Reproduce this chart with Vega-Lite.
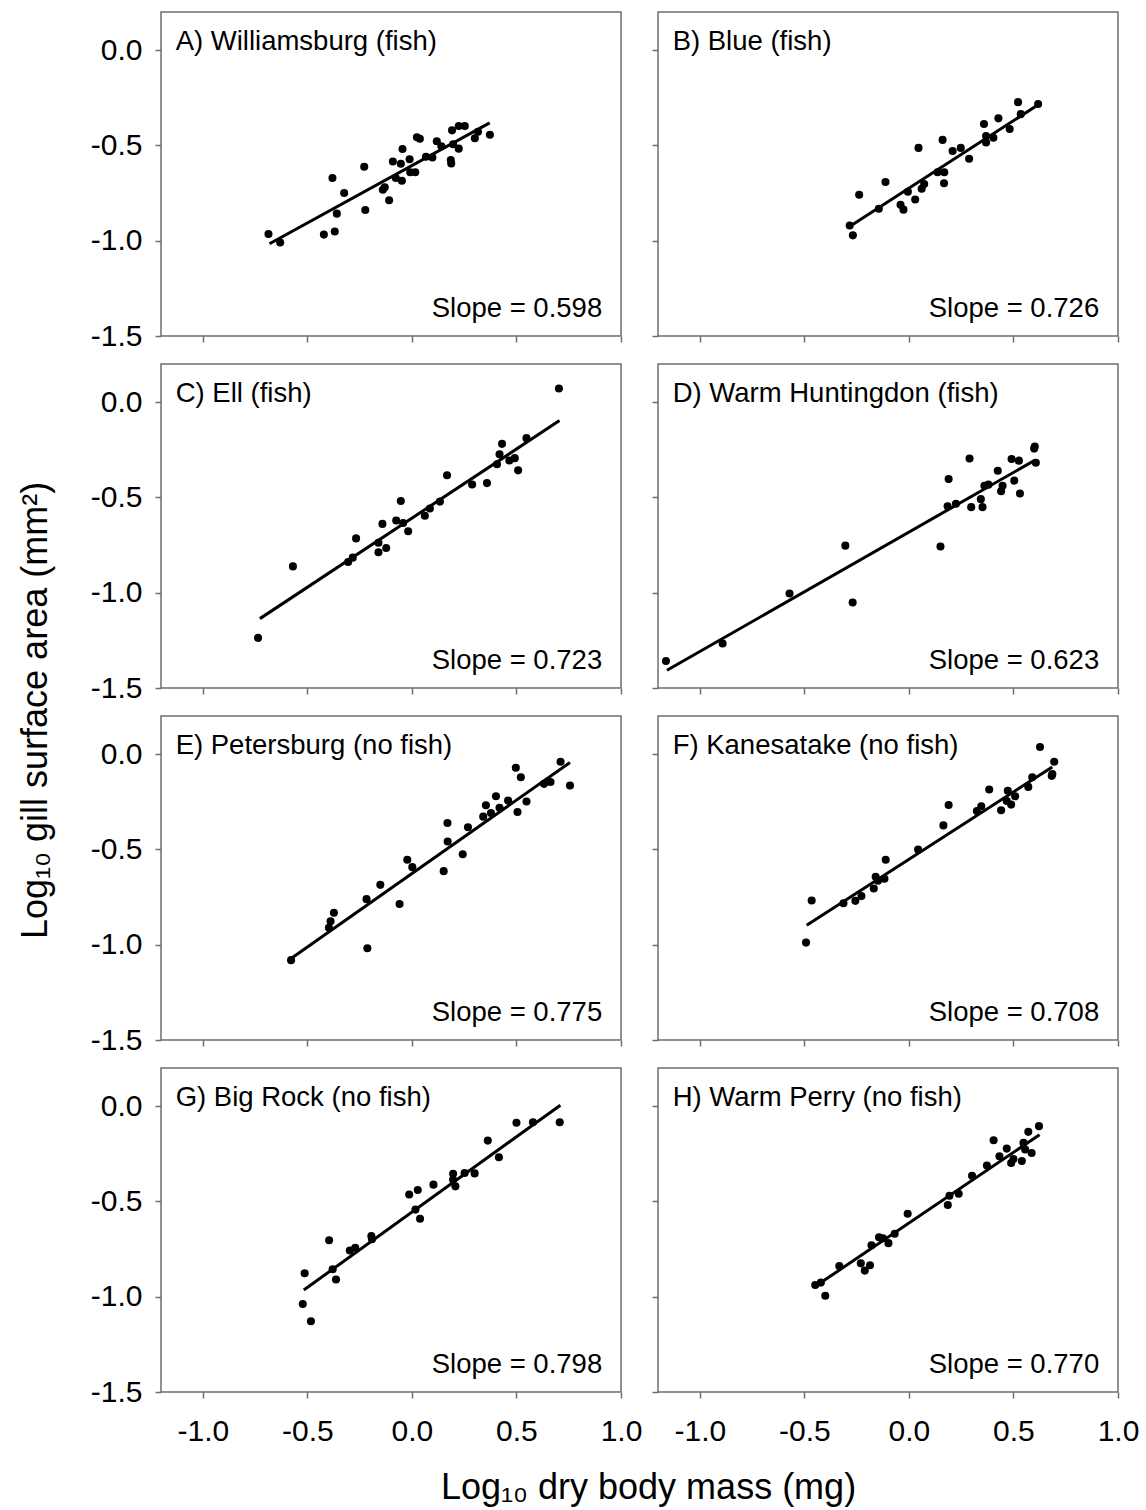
{
  "$schema": "https://vega.github.io/schema/vega-lite/v6.json",
  "padding": {"left": 16, "top": 11, "right": 5, "bottom": 5},
  "background": "white",
  "config": {
    "font": "Liberation Sans",
    "view": {"stroke": "#6e6e6e", "strokeWidth": 1.5},
    "axis": {"domain": false, "grid": false, "ticks": true, "tickColor": "#6e6e6e", "tickWidth": 1.5, "tickSize": 6, "labelFont": "Liberation Sans", "labelFontSize": 30, "labelColor": "#000", "titleFont": "Liberation Sans", "titleFontSize": 36, "titleFontWeight": "normal", "titleColor": "#000", "labelFlush": false, "labelOverlap": false},
    "axisY": {"labelPadding": 13},
    "axisX": {"labelPadding": 18},
    "text": {"font": "Liberation Sans", "fontSize": 27.5, "color": "#000"},
    "locale": {"number": {"decimal": ".", "thousands": ",", "grouping": [3], "currency": ["$", ""], "minus": "-"}}
  },
  "datasets": {
    "lab": [
      {"panel": "A", "title": "A) Williamsburg (fish)", "slope": "Slope = 0.598"},
      {"panel": "B", "title": "B) Blue (fish)", "slope": "Slope = 0.726"},
      {"panel": "C", "title": "C) Ell (fish)", "slope": "Slope = 0.723"},
      {"panel": "D", "title": "D) Warm Huntingdon (fish)", "slope": "Slope = 0.623"},
      {"panel": "E", "title": "E) Petersburg (no fish)", "slope": "Slope = 0.775"},
      {"panel": "F", "title": "F) Kanesatake (no fish)", "slope": "Slope = 0.708"},
      {"panel": "G", "title": "G) Big Rock (no fish)", "slope": "Slope = 0.798"},
      {"panel": "H", "title": "H) Warm Perry (no fish)", "slope": "Slope = 0.770"}
    ],
    "fit": [
      {"panel": "A", "x": -0.681, "y": -1.016}, {"panel": "A", "x": 0.372, "y": -0.382},
      {"panel": "B", "x": -0.289, "y": -0.929}, {"panel": "B", "x": 0.618, "y": -0.287},
      {"panel": "C", "x": -0.727, "y": -1.136}, {"panel": "C", "x": 0.706, "y": -0.097},
      {"panel": "D", "x": -1.157, "y": -1.407}, {"panel": "D", "x": 0.599, "y": -0.307},
      {"panel": "E", "x": -0.578, "y": -1.072}, {"panel": "E", "x": 0.756, "y": -0.044},
      {"panel": "F", "x": -0.489, "y": -0.898}, {"panel": "F", "x": 0.686, "y": -0.067},
      {"panel": "G", "x": -0.517, "y": -0.965}, {"panel": "G", "x": 0.71, "y": 0.005},
      {"panel": "H", "x": -0.44, "y": -0.94}, {"panel": "H", "x": 0.625, "y": -0.15}
    ],
    "pts": [
      {"panel": "A", "x": -0.686, "y": -0.965}, {"panel": "A", "x": -0.63, "y": -1.009}, {"panel": "A", "x": -0.421, "y": -0.968}, {"panel": "A", "x": -0.369, "y": -0.952}, {"panel": "A", "x": -0.38, "y": -0.671}, {"panel": "A", "x": -0.359, "y": -0.858}, {"panel": "A", "x": -0.324, "y": -0.75}, {"panel": "A", "x": -0.228, "y": -0.612}, {"panel": "A", "x": -0.223, "y": -0.839}, {"panel": "A", "x": -0.139, "y": -0.733}, {"panel": "A", "x": -0.13, "y": -0.72}, {"panel": "A", "x": -0.109, "y": -0.788}, {"panel": "A", "x": -0.091, "y": -0.584}, {"panel": "A", "x": -0.053, "y": -0.596}, {"panel": "A", "x": -0.045, "y": -0.519}, {"panel": "A", "x": -0.077, "y": -0.671}, {"panel": "A", "x": -0.048, "y": -0.685}, {"panel": "A", "x": -0.011, "y": -0.573}, {"panel": "A", "x": -0.008, "y": -0.641}, {"panel": "A", "x": 0.016, "y": -0.641}, {"panel": "A", "x": 0.024, "y": -0.457}, {"panel": "A", "x": 0.038, "y": -0.465}, {"panel": "A", "x": 0.067, "y": -0.559}, {"panel": "A", "x": 0.098, "y": -0.563}, {"panel": "A", "x": 0.119, "y": -0.478}, {"panel": "A", "x": 0.141, "y": -0.504}, {"panel": "A", "x": 0.186, "y": -0.577}, {"panel": "A", "x": 0.188, "y": -0.595}, {"panel": "A", "x": 0.192, "y": -0.421}, {"panel": "A", "x": 0.197, "y": -0.494}, {"panel": "A", "x": 0.224, "y": -0.517}, {"panel": "A", "x": 0.224, "y": -0.398}, {"panel": "A", "x": 0.253, "y": -0.398}, {"panel": "A", "x": 0.301, "y": -0.462}, {"panel": "A", "x": 0.316, "y": -0.428}, {"panel": "A", "x": 0.373, "y": -0.444},
      {"panel": "B", "x": -0.283, "y": -0.92}, {"panel": "B", "x": -0.268, "y": -0.972}, {"panel": "B", "x": -0.238, "y": -0.759}, {"panel": "B", "x": -0.144, "y": -0.832}, {"panel": "B", "x": -0.112, "y": -0.692}, {"panel": "B", "x": -0.04, "y": -0.811}, {"panel": "B", "x": -0.026, "y": -0.837}, {"panel": "B", "x": -0.005, "y": -0.743}, {"panel": "B", "x": 0.03, "y": -0.784}, {"panel": "B", "x": 0.046, "y": -0.513}, {"panel": "B", "x": 0.061, "y": -0.727}, {"panel": "B", "x": 0.073, "y": -0.703}, {"panel": "B", "x": 0.137, "y": -0.641}, {"panel": "B", "x": 0.161, "y": -0.471}, {"panel": "B", "x": 0.169, "y": -0.641}, {"panel": "B", "x": 0.168, "y": -0.699}, {"panel": "B", "x": 0.209, "y": -0.529}, {"panel": "B", "x": 0.248, "y": -0.513}, {"panel": "B", "x": 0.288, "y": -0.57}, {"panel": "B", "x": 0.359, "y": -0.388}, {"panel": "B", "x": 0.369, "y": -0.451}, {"panel": "B", "x": 0.369, "y": -0.485}, {"panel": "B", "x": 0.404, "y": -0.46}, {"panel": "B", "x": 0.428, "y": -0.358}, {"panel": "B", "x": 0.482, "y": -0.414}, {"panel": "B", "x": 0.522, "y": -0.273}, {"panel": "B", "x": 0.535, "y": -0.336}, {"panel": "B", "x": 0.618, "y": -0.283},
      {"panel": "C", "x": -0.736, "y": -1.237}, {"panel": "C", "x": -0.569, "y": -0.862}, {"panel": "C", "x": -0.305, "y": -0.839}, {"panel": "C", "x": -0.283, "y": -0.816}, {"panel": "C", "x": -0.267, "y": -0.715}, {"panel": "C", "x": -0.16, "y": -0.788}, {"panel": "C", "x": -0.16, "y": -0.738}, {"panel": "C", "x": -0.141, "y": -0.639}, {"panel": "C", "x": -0.123, "y": -0.765}, {"panel": "C", "x": -0.075, "y": -0.621}, {"panel": "C", "x": -0.053, "y": -0.519}, {"panel": "C", "x": -0.042, "y": -0.634}, {"panel": "C", "x": -0.018, "y": -0.678}, {"panel": "C", "x": 0.062, "y": -0.596}, {"panel": "C", "x": 0.086, "y": -0.558}, {"panel": "C", "x": 0.134, "y": -0.522}, {"panel": "C", "x": 0.168, "y": -0.384}, {"panel": "C", "x": 0.288, "y": -0.432}, {"panel": "C", "x": 0.359, "y": -0.425}, {"panel": "C", "x": 0.407, "y": -0.326}, {"panel": "C", "x": 0.419, "y": -0.274}, {"panel": "C", "x": 0.431, "y": -0.219}, {"panel": "C", "x": 0.466, "y": -0.306}, {"panel": "C", "x": 0.492, "y": -0.294}, {"panel": "C", "x": 0.508, "y": -0.358}, {"panel": "C", "x": 0.548, "y": -0.189}, {"panel": "C", "x": 0.703, "y": 0.071},
      {"panel": "D", "x": -1.162, "y": -1.358}, {"panel": "D", "x": -0.891, "y": -1.267}, {"panel": "D", "x": -0.571, "y": -1.004}, {"panel": "D", "x": -0.304, "y": -0.753}, {"panel": "D", "x": -0.269, "y": -1.051}, {"panel": "D", "x": 0.151, "y": -0.758}, {"panel": "D", "x": 0.185, "y": -0.546}, {"panel": "D", "x": 0.19, "y": -0.404}, {"panel": "D", "x": 0.225, "y": -0.533}, {"panel": "D", "x": 0.29, "y": -0.296}, {"panel": "D", "x": 0.298, "y": -0.551}, {"panel": "D", "x": 0.344, "y": -0.509}, {"panel": "D", "x": 0.352, "y": -0.551}, {"panel": "D", "x": 0.361, "y": -0.439}, {"panel": "D", "x": 0.38, "y": -0.433}, {"panel": "D", "x": 0.425, "y": -0.36}, {"panel": "D", "x": 0.441, "y": -0.468}, {"panel": "D", "x": 0.448, "y": -0.439}, {"panel": "D", "x": 0.491, "y": -0.298}, {"panel": "D", "x": 0.504, "y": -0.412}, {"panel": "D", "x": 0.526, "y": -0.307}, {"panel": "D", "x": 0.531, "y": -0.479}, {"panel": "D", "x": 0.599, "y": -0.244}, {"panel": "D", "x": 0.602, "y": -0.233}, {"panel": "D", "x": 0.607, "y": -0.318},
      {"panel": "E", "x": -0.578, "y": -1.081}, {"panel": "E", "x": -0.389, "y": -0.877}, {"panel": "E", "x": -0.373, "y": -0.832}, {"panel": "E", "x": -0.397, "y": -0.911}, {"panel": "E", "x": -0.217, "y": -0.761}, {"panel": "E", "x": -0.213, "y": -1.019}, {"panel": "E", "x": -0.151, "y": -0.686}, {"panel": "E", "x": -0.059, "y": -0.786}, {"panel": "E", "x": -0.022, "y": -0.554}, {"panel": "E", "x": 0.002, "y": -0.593}, {"panel": "E", "x": 0.152, "y": -0.614}, {"panel": "E", "x": 0.17, "y": -0.361}, {"panel": "E", "x": 0.171, "y": -0.458}, {"panel": "E", "x": 0.243, "y": -0.525}, {"panel": "E", "x": 0.268, "y": -0.384}, {"panel": "E", "x": 0.341, "y": -0.328}, {"panel": "E", "x": 0.354, "y": -0.268}, {"panel": "E", "x": 0.378, "y": -0.309}, {"panel": "E", "x": 0.402, "y": -0.221}, {"panel": "E", "x": 0.419, "y": -0.282}, {"panel": "E", "x": 0.46, "y": -0.244}, {"panel": "E", "x": 0.497, "y": -0.072}, {"panel": "E", "x": 0.505, "y": -0.304}, {"panel": "E", "x": 0.521, "y": -0.121}, {"panel": "E", "x": 0.548, "y": -0.249}, {"panel": "E", "x": 0.632, "y": -0.156}, {"panel": "E", "x": 0.663, "y": -0.146}, {"panel": "E", "x": 0.711, "y": -0.04}, {"panel": "E", "x": 0.756, "y": -0.165},
      {"panel": "F", "x": -0.492, "y": -0.989}, {"panel": "F", "x": -0.465, "y": -0.768}, {"panel": "F", "x": -0.313, "y": -0.782}, {"panel": "F", "x": -0.256, "y": -0.77}, {"panel": "F", "x": -0.227, "y": -0.745}, {"panel": "F", "x": -0.168, "y": -0.705}, {"panel": "F", "x": -0.159, "y": -0.643}, {"panel": "F", "x": -0.148, "y": -0.664}, {"panel": "F", "x": -0.117, "y": -0.654}, {"panel": "F", "x": -0.111, "y": -0.554}, {"panel": "F", "x": 0.044, "y": -0.501}, {"panel": "F", "x": 0.165, "y": -0.374}, {"panel": "F", "x": 0.19, "y": -0.267}, {"panel": "F", "x": 0.325, "y": -0.299}, {"panel": "F", "x": 0.346, "y": -0.274}, {"panel": "F", "x": 0.384, "y": -0.186}, {"panel": "F", "x": 0.441, "y": -0.295}, {"panel": "F", "x": 0.473, "y": -0.192}, {"panel": "F", "x": 0.468, "y": -0.246}, {"panel": "F", "x": 0.489, "y": -0.265}, {"panel": "F", "x": 0.508, "y": -0.221}, {"panel": "F", "x": 0.571, "y": -0.172}, {"panel": "F", "x": 0.59, "y": -0.121}, {"panel": "F", "x": 0.627, "y": 0.037}, {"panel": "F", "x": 0.683, "y": -0.114}, {"panel": "F", "x": 0.686, "y": -0.104}, {"panel": "F", "x": 0.695, "y": -0.04},
      {"panel": "G", "x": -0.522, "y": -1.038}, {"panel": "G", "x": -0.513, "y": -0.877}, {"panel": "G", "x": -0.483, "y": -1.129}, {"panel": "G", "x": -0.396, "y": -0.704}, {"panel": "G", "x": -0.379, "y": -0.856}, {"panel": "G", "x": -0.363, "y": -0.91}, {"panel": "G", "x": -0.297, "y": -0.758}, {"panel": "G", "x": -0.271, "y": -0.743}, {"panel": "G", "x": -0.194, "y": -0.682}, {"panel": "G", "x": -0.191, "y": -0.699}, {"panel": "G", "x": -0.013, "y": -0.464}, {"panel": "G", "x": 0.028, "y": -0.44}, {"panel": "G", "x": 0.017, "y": -0.543}, {"panel": "G", "x": 0.039, "y": -0.591}, {"panel": "G", "x": 0.103, "y": -0.412}, {"panel": "G", "x": 0.197, "y": -0.355}, {"panel": "G", "x": 0.197, "y": -0.386}, {"panel": "G", "x": 0.208, "y": -0.421}, {"panel": "G", "x": 0.252, "y": -0.351}, {"panel": "G", "x": 0.3, "y": -0.353}, {"panel": "G", "x": 0.363, "y": -0.181}, {"panel": "G", "x": 0.416, "y": -0.268}, {"panel": "G", "x": 0.5, "y": -0.087}, {"panel": "G", "x": 0.579, "y": -0.085}, {"panel": "G", "x": 0.707, "y": -0.085},
      {"panel": "H", "x": -0.448, "y": -0.939}, {"panel": "H", "x": -0.421, "y": -0.926}, {"panel": "H", "x": -0.4, "y": -0.995}, {"panel": "H", "x": -0.333, "y": -0.839}, {"panel": "H", "x": -0.23, "y": -0.825}, {"panel": "H", "x": -0.211, "y": -0.863}, {"panel": "H", "x": -0.186, "y": -0.835}, {"panel": "H", "x": -0.179, "y": -0.73}, {"panel": "H", "x": -0.143, "y": -0.688}, {"panel": "H", "x": -0.124, "y": -0.693}, {"panel": "H", "x": -0.098, "y": -0.719}, {"panel": "H", "x": -0.068, "y": -0.67}, {"panel": "H", "x": -0.006, "y": -0.565}, {"panel": "H", "x": 0.186, "y": -0.519}, {"panel": "H", "x": 0.194, "y": -0.47}, {"panel": "H", "x": 0.238, "y": -0.46}, {"panel": "H", "x": 0.302, "y": -0.365}, {"panel": "H", "x": 0.373, "y": -0.312}, {"panel": "H", "x": 0.405, "y": -0.179}, {"panel": "H", "x": 0.433, "y": -0.263}, {"panel": "H", "x": 0.468, "y": -0.223}, {"panel": "H", "x": 0.489, "y": -0.298}, {"panel": "H", "x": 0.5, "y": -0.277}, {"panel": "H", "x": 0.54, "y": -0.288}, {"panel": "H", "x": 0.548, "y": -0.193}, {"panel": "H", "x": 0.556, "y": -0.228}, {"panel": "H", "x": 0.571, "y": -0.135}, {"panel": "H", "x": 0.587, "y": -0.246}, {"panel": "H", "x": 0.622, "y": -0.105}
    ]
  },
  "bounds": "flush",
  "columns": 2,
  "spacing": {"row": 28, "column": 37},
  "concat": [
    {"width": 460, "height": 324, "layer": [
      {"data": {"name": "pts"}, "transform": [{"filter": "datum.panel === 'A'"}], "mark": {"type": "circle", "size": 65, "color": "#000", "opacity": 1},
       "encoding": {"x": {"field": "x", "type": "quantitative", "scale": {"domain": [-1.2, 1.0], "nice": false, "zero": false}, "axis": {"values": [-1, -0.5, 0, 0.5, 1], "labels": false, "title": null}},
                    "y": {"field": "y", "type": "quantitative", "scale": {"domain": [-1.5, 0.2], "nice": false, "zero": false}, "axis": {"values": [-1.5, -1, -0.5, 0], "format": ".1f", "title": null}}}},
      {"data": {"name": "fit"}, "transform": [{"filter": "datum.panel === 'A'"}], "mark": {"type": "line", "color": "#000", "strokeWidth": 3},
       "encoding": {"x": {"field": "x", "type": "quantitative"}, "y": {"field": "y", "type": "quantitative"}}},
      {"data": {"name": "lab"}, "transform": [{"filter": "datum.panel === 'A'"}], "mark": {"type": "text", "align": "left", "baseline": "alphabetic"},
       "encoding": {"x": {"datum": -1.13, "type": "quantitative"}, "y": {"datum": 0, "type": "quantitative"}, "text": {"field": "title"}}},
      {"data": {"name": "lab"}, "transform": [{"filter": "datum.panel === 'A'"}], "mark": {"type": "text", "align": "right", "baseline": "alphabetic"},
       "encoding": {"x": {"datum": 0.91, "type": "quantitative"}, "y": {"datum": -1.4, "type": "quantitative"}, "text": {"field": "slope"}}}
    ]},
    {"width": 460, "height": 324, "layer": [
      {"data": {"name": "pts"}, "transform": [{"filter": "datum.panel === 'B'"}], "mark": {"type": "circle", "size": 65, "color": "#000", "opacity": 1},
       "encoding": {"x": {"field": "x", "type": "quantitative", "scale": {"domain": [-1.2, 1.0], "nice": false, "zero": false}, "axis": {"values": [-1, -0.5, 0, 0.5, 1], "labels": false, "title": null}},
                    "y": {"field": "y", "type": "quantitative", "scale": {"domain": [-1.5, 0.2], "nice": false, "zero": false}, "axis": {"values": [-1.5, -1, -0.5, 0], "labels": false, "title": null}}}},
      {"data": {"name": "fit"}, "transform": [{"filter": "datum.panel === 'B'"}], "mark": {"type": "line", "color": "#000", "strokeWidth": 3},
       "encoding": {"x": {"field": "x", "type": "quantitative"}, "y": {"field": "y", "type": "quantitative"}}},
      {"data": {"name": "lab"}, "transform": [{"filter": "datum.panel === 'B'"}], "mark": {"type": "text", "align": "left", "baseline": "alphabetic"},
       "encoding": {"x": {"datum": -1.13, "type": "quantitative"}, "y": {"datum": 0, "type": "quantitative"}, "text": {"field": "title"}}},
      {"data": {"name": "lab"}, "transform": [{"filter": "datum.panel === 'B'"}], "mark": {"type": "text", "align": "right", "baseline": "alphabetic"},
       "encoding": {"x": {"datum": 0.91, "type": "quantitative"}, "y": {"datum": -1.4, "type": "quantitative"}, "text": {"field": "slope"}}}
    ]},
    {"width": 460, "height": 324, "layer": [
      {"data": {"name": "pts"}, "transform": [{"filter": "datum.panel === 'C'"}], "mark": {"type": "circle", "size": 65, "color": "#000", "opacity": 1},
       "encoding": {"x": {"field": "x", "type": "quantitative", "scale": {"domain": [-1.2, 1.0], "nice": false, "zero": false}, "axis": {"values": [-1, -0.5, 0, 0.5, 1], "labels": false, "title": null}},
                    "y": {"field": "y", "type": "quantitative", "scale": {"domain": [-1.5, 0.2], "nice": false, "zero": false}, "axis": {"values": [-1.5, -1, -0.5, 0], "format": ".1f", "title": "Log₁₀ gill surface area (mm²)", "titleX": -115, "titleY": 346, "titleAngle": 270, "titleAlign": "center", "titleBaseline": "alphabetic"}}}},
      {"data": {"name": "fit"}, "transform": [{"filter": "datum.panel === 'C'"}], "mark": {"type": "line", "color": "#000", "strokeWidth": 3},
       "encoding": {"x": {"field": "x", "type": "quantitative"}, "y": {"field": "y", "type": "quantitative"}}},
      {"data": {"name": "lab"}, "transform": [{"filter": "datum.panel === 'C'"}], "mark": {"type": "text", "align": "left", "baseline": "alphabetic"},
       "encoding": {"x": {"datum": -1.13, "type": "quantitative"}, "y": {"datum": 0, "type": "quantitative"}, "text": {"field": "title"}}},
      {"data": {"name": "lab"}, "transform": [{"filter": "datum.panel === 'C'"}], "mark": {"type": "text", "align": "right", "baseline": "alphabetic"},
       "encoding": {"x": {"datum": 0.91, "type": "quantitative"}, "y": {"datum": -1.4, "type": "quantitative"}, "text": {"field": "slope"}}}
    ]},
    {"width": 460, "height": 324, "layer": [
      {"data": {"name": "pts"}, "transform": [{"filter": "datum.panel === 'D'"}], "mark": {"type": "circle", "size": 65, "color": "#000", "opacity": 1},
       "encoding": {"x": {"field": "x", "type": "quantitative", "scale": {"domain": [-1.2, 1.0], "nice": false, "zero": false}, "axis": {"values": [-1, -0.5, 0, 0.5, 1], "labels": false, "title": null}},
                    "y": {"field": "y", "type": "quantitative", "scale": {"domain": [-1.5, 0.2], "nice": false, "zero": false}, "axis": {"values": [-1.5, -1, -0.5, 0], "labels": false, "title": null}}}},
      {"data": {"name": "fit"}, "transform": [{"filter": "datum.panel === 'D'"}], "mark": {"type": "line", "color": "#000", "strokeWidth": 3},
       "encoding": {"x": {"field": "x", "type": "quantitative"}, "y": {"field": "y", "type": "quantitative"}}},
      {"data": {"name": "lab"}, "transform": [{"filter": "datum.panel === 'D'"}], "mark": {"type": "text", "align": "left", "baseline": "alphabetic"},
       "encoding": {"x": {"datum": -1.13, "type": "quantitative"}, "y": {"datum": 0, "type": "quantitative"}, "text": {"field": "title"}}},
      {"data": {"name": "lab"}, "transform": [{"filter": "datum.panel === 'D'"}], "mark": {"type": "text", "align": "right", "baseline": "alphabetic"},
       "encoding": {"x": {"datum": 0.91, "type": "quantitative"}, "y": {"datum": -1.4, "type": "quantitative"}, "text": {"field": "slope"}}}
    ]},
    {"width": 460, "height": 324, "layer": [
      {"data": {"name": "pts"}, "transform": [{"filter": "datum.panel === 'E'"}], "mark": {"type": "circle", "size": 65, "color": "#000", "opacity": 1},
       "encoding": {"x": {"field": "x", "type": "quantitative", "scale": {"domain": [-1.2, 1.0], "nice": false, "zero": false}, "axis": {"values": [-1, -0.5, 0, 0.5, 1], "labels": false, "title": null}},
                    "y": {"field": "y", "type": "quantitative", "scale": {"domain": [-1.5, 0.2], "nice": false, "zero": false}, "axis": {"values": [-1.5, -1, -0.5, 0], "format": ".1f", "title": null}}}},
      {"data": {"name": "fit"}, "transform": [{"filter": "datum.panel === 'E'"}], "mark": {"type": "line", "color": "#000", "strokeWidth": 3},
       "encoding": {"x": {"field": "x", "type": "quantitative"}, "y": {"field": "y", "type": "quantitative"}}},
      {"data": {"name": "lab"}, "transform": [{"filter": "datum.panel === 'E'"}], "mark": {"type": "text", "align": "left", "baseline": "alphabetic"},
       "encoding": {"x": {"datum": -1.13, "type": "quantitative"}, "y": {"datum": 0, "type": "quantitative"}, "text": {"field": "title"}}},
      {"data": {"name": "lab"}, "transform": [{"filter": "datum.panel === 'E'"}], "mark": {"type": "text", "align": "right", "baseline": "alphabetic"},
       "encoding": {"x": {"datum": 0.91, "type": "quantitative"}, "y": {"datum": -1.4, "type": "quantitative"}, "text": {"field": "slope"}}}
    ]},
    {"width": 460, "height": 324, "layer": [
      {"data": {"name": "pts"}, "transform": [{"filter": "datum.panel === 'F'"}], "mark": {"type": "circle", "size": 65, "color": "#000", "opacity": 1},
       "encoding": {"x": {"field": "x", "type": "quantitative", "scale": {"domain": [-1.2, 1.0], "nice": false, "zero": false}, "axis": {"values": [-1, -0.5, 0, 0.5, 1], "labels": false, "title": null}},
                    "y": {"field": "y", "type": "quantitative", "scale": {"domain": [-1.5, 0.2], "nice": false, "zero": false}, "axis": {"values": [-1.5, -1, -0.5, 0], "labels": false, "title": null}}}},
      {"data": {"name": "fit"}, "transform": [{"filter": "datum.panel === 'F'"}], "mark": {"type": "line", "color": "#000", "strokeWidth": 3},
       "encoding": {"x": {"field": "x", "type": "quantitative"}, "y": {"field": "y", "type": "quantitative"}}},
      {"data": {"name": "lab"}, "transform": [{"filter": "datum.panel === 'F'"}], "mark": {"type": "text", "align": "left", "baseline": "alphabetic"},
       "encoding": {"x": {"datum": -1.13, "type": "quantitative"}, "y": {"datum": 0, "type": "quantitative"}, "text": {"field": "title"}}},
      {"data": {"name": "lab"}, "transform": [{"filter": "datum.panel === 'F'"}], "mark": {"type": "text", "align": "right", "baseline": "alphabetic"},
       "encoding": {"x": {"datum": 0.91, "type": "quantitative"}, "y": {"datum": -1.4, "type": "quantitative"}, "text": {"field": "slope"}}}
    ]},
    {"width": 460, "height": 324, "layer": [
      {"data": {"name": "pts"}, "transform": [{"filter": "datum.panel === 'G'"}], "mark": {"type": "circle", "size": 65, "color": "#000", "opacity": 1},
       "encoding": {"x": {"field": "x", "type": "quantitative", "scale": {"domain": [-1.2, 1.0], "nice": false, "zero": false}, "axis": {"values": [-1, -0.5, 0, 0.5, 1], "format": ".1f", "title": "Log₁₀ dry body mass (mg)", "titleX": 487, "titleY": 106, "titleAlign": "center", "titleBaseline": "alphabetic"}},
                    "y": {"field": "y", "type": "quantitative", "scale": {"domain": [-1.5, 0.2], "nice": false, "zero": false}, "axis": {"values": [-1.5, -1, -0.5, 0], "format": ".1f", "title": null}}}},
      {"data": {"name": "fit"}, "transform": [{"filter": "datum.panel === 'G'"}], "mark": {"type": "line", "color": "#000", "strokeWidth": 3},
       "encoding": {"x": {"field": "x", "type": "quantitative"}, "y": {"field": "y", "type": "quantitative"}}},
      {"data": {"name": "lab"}, "transform": [{"filter": "datum.panel === 'G'"}], "mark": {"type": "text", "align": "left", "baseline": "alphabetic"},
       "encoding": {"x": {"datum": -1.13, "type": "quantitative"}, "y": {"datum": 0, "type": "quantitative"}, "text": {"field": "title"}}},
      {"data": {"name": "lab"}, "transform": [{"filter": "datum.panel === 'G'"}], "mark": {"type": "text", "align": "right", "baseline": "alphabetic"},
       "encoding": {"x": {"datum": 0.91, "type": "quantitative"}, "y": {"datum": -1.4, "type": "quantitative"}, "text": {"field": "slope"}}}
    ]},
    {"width": 460, "height": 324, "layer": [
      {"data": {"name": "pts"}, "transform": [{"filter": "datum.panel === 'H'"}], "mark": {"type": "circle", "size": 65, "color": "#000", "opacity": 1},
       "encoding": {"x": {"field": "x", "type": "quantitative", "scale": {"domain": [-1.2, 1.0], "nice": false, "zero": false}, "axis": {"values": [-1, -0.5, 0, 0.5, 1], "format": ".1f", "title": null}},
                    "y": {"field": "y", "type": "quantitative", "scale": {"domain": [-1.5, 0.2], "nice": false, "zero": false}, "axis": {"values": [-1.5, -1, -0.5, 0], "labels": false, "title": null}}}},
      {"data": {"name": "fit"}, "transform": [{"filter": "datum.panel === 'H'"}], "mark": {"type": "line", "color": "#000", "strokeWidth": 3},
       "encoding": {"x": {"field": "x", "type": "quantitative"}, "y": {"field": "y", "type": "quantitative"}}},
      {"data": {"name": "lab"}, "transform": [{"filter": "datum.panel === 'H'"}], "mark": {"type": "text", "align": "left", "baseline": "alphabetic"},
       "encoding": {"x": {"datum": -1.13, "type": "quantitative"}, "y": {"datum": 0, "type": "quantitative"}, "text": {"field": "title"}}},
      {"data": {"name": "lab"}, "transform": [{"filter": "datum.panel === 'H'"}], "mark": {"type": "text", "align": "right", "baseline": "alphabetic"},
       "encoding": {"x": {"datum": 0.91, "type": "quantitative"}, "y": {"datum": -1.4, "type": "quantitative"}, "text": {"field": "slope"}}}
    ]}
  ]
}
